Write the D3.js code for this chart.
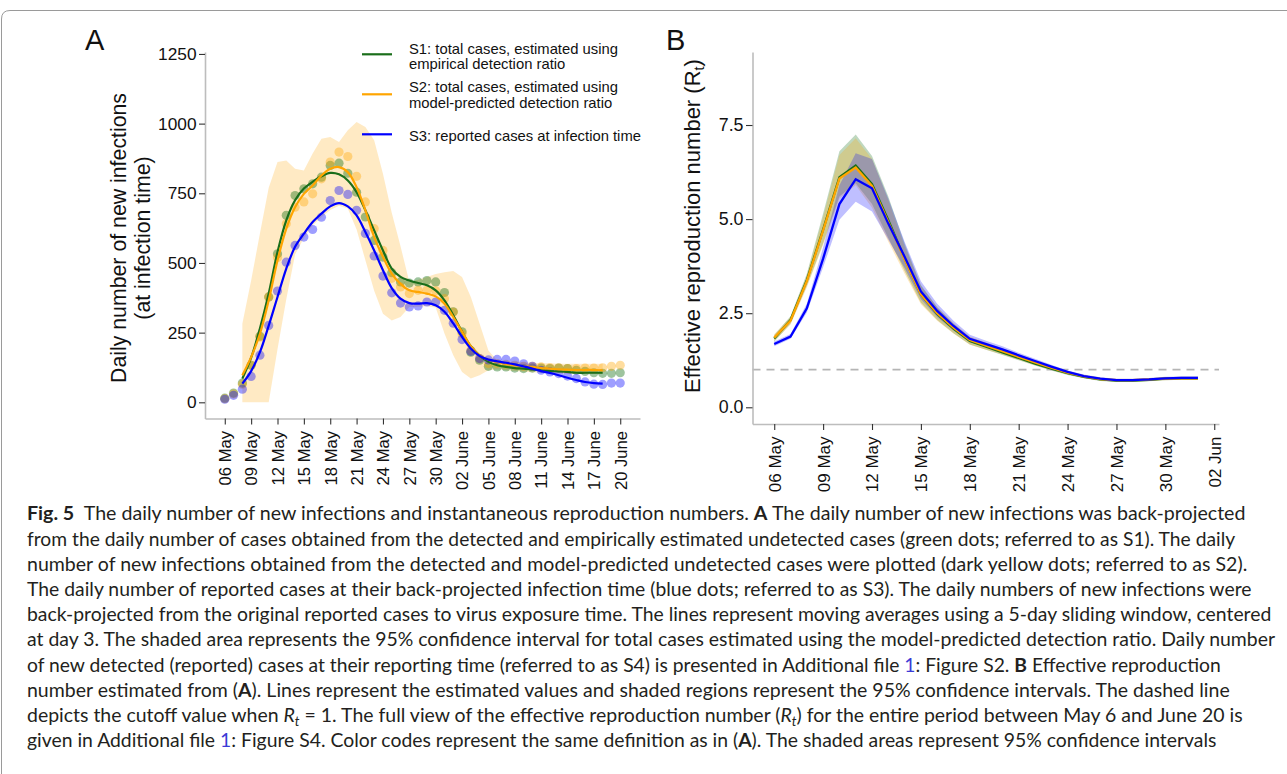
<!DOCTYPE html>
<html><head><meta charset="utf-8">
<script src="https://cdn.jsdelivr.net/npm/d3@7"></script>
<style>body{margin:0;background:#fff}svg{display:block}</style>
</head><body>
<svg id="c" width="1287" height="774"></svg>
<script>
// ---------- DATA ----------
const daysA = ["05-06","05-07","05-08","05-09","05-10","05-11","05-12","05-13","05-14","05-15","05-16","05-17","05-18","05-19","05-20","05-21","05-22","05-23","05-24","05-25","05-26","05-27","05-28","05-29","05-30","05-31","06-01","06-02","06-03","06-04","06-05","06-06","06-07","06-08","06-09","06-10","06-11","06-12","06-13","06-14","06-15","06-16","06-17","06-18","06-19","06-20"];
// daily dots (06 May - 20 June)
const s1Dots = [15,33,69,133,237,378,533,671,742,766,784,808,850,858,822,754,665,581,521,465,432,428,432,437,432,394,325,253,180,151,129,127,127,123,121,123,123,121,123,121,115,111,106,104,104,106];
const s2Dots = [13,30,65,133,234,378,520,641,700,719,748,802,862,898,882,811,719,623,545,445,414,390,402,402,400,372,324,246,186,157,139,139,136,133,129,129,127,124,124,121,121,123,123,124,129,133];
const s3Dots = [11,25,47,93,169,276,399,503,563,593,620,664,724,760,746,689,606,525,453,393,356,342,346,360,360,330,284,225,183,157,152,154,154,148,138,129,115,109,103,94,85,73,65,64,69,69];
// moving averages (08 May - 18 June)
const lineDaysA = daysA.slice(2, 44);
const s1Line = [85,160,265,390,539,653,725,767,791,811,823,818,796,754,689,617,545,480,450,437,428,420,402,366,312,253,201,168,145,133,127,123,121,118,115,112,111,109,106,106,106,106];
const s2Line = [97,162,246,366,509,623,700,748,778,814,838,844,826,772,689,593,522,462,425,402,396,390,380,354,306,253,201,168,153,145,138,133,129,127,123,121,118,117,116,116,116,115];
const s3Line = [67,112,180,275,378,480,558,605,647,677,703,715,703,671,611,545,474,410,372,356,354,356,348,325,283,235,193,166,153,147,142,136,129,121,112,105,97,88,80,73,69,67];
// 95% CI of S2 (08 May - 18 June)
const bandHi = [282,437,606,770,862,868,838,832,893,946,952,934,976,1006,988,940,820,680,560,432,440,450,460,467,471,450,378,282,186,150,148,145,143,142,140,140,138,138,138,138,138,138];
const bandLo = [0,0,0,0,190,370,530,590,635,665,690,705,695,620,510,400,318,294,306,342,343,345,340,247,169,109,85,97,115,118,115,112,110,108,106,104,103,102,102,102,102,102];
const yTicksA = [0,250,500,750,1000,1250];
const xTicksA = ["05-06","05-09","05-12","05-15","05-18","05-21","05-24","05-27","05-30","06-02","06-05","06-08","06-11","06-14","06-17","06-20"];
const xLabelsA = ["06 May","09 May","12 May","15 May","18 May","21 May","24 May","27 May","30 May","02 June","05 June","08 June","11 June","14 June","17 June","20 June"];

// Panel B (06 May - 01 Jun)
const daysB = ["05-06","05-07","05-08","05-09","05-10","05-11","05-12","05-13","05-14","05-15","05-16","05-17","05-18","05-19","05-20","05-21","05-22","05-23","05-24","05-25","05-26","05-27","05-28","05-29","05-30","05-31","06-01"];
const rt1 = [1.83,2.32,3.38,4.72,6.11,6.42,5.93,4.97,3.95,3.0,2.48,2.09,1.76,1.61,1.46,1.31,1.16,1.03,0.91,0.81,0.74,0.71,0.71,0.73,0.76,0.77,0.77];
const rt1Lo = [1.74,2.22,3.22,4.35,5.60,5.95,5.40,4.50,3.62,2.78,2.32,1.97,1.67,1.53,1.39,1.25,1.11,0.98,0.86,0.77,0.70,0.67,0.67,0.69,0.72,0.73,0.73];
const rt1Hi = [1.92,2.42,3.55,5.15,6.80,7.25,6.68,5.60,4.35,3.25,2.66,2.22,1.86,1.70,1.54,1.38,1.22,1.08,0.96,0.85,0.78,0.75,0.75,0.77,0.80,0.81,0.81];
const rt2 = [1.85,2.30,3.35,4.70,6.08,6.37,5.88,4.92,3.93,3.0,2.5,2.12,1.79,1.64,1.49,1.34,1.19,1.05,0.92,0.82,0.75,0.72,0.72,0.74,0.76,0.77,0.77];
const rt2Lo = [1.76,2.20,3.18,4.32,5.55,5.90,5.30,4.40,3.55,2.74,2.30,1.96,1.66,1.53,1.40,1.26,1.12,0.99,0.87,0.78,0.71,0.68,0.68,0.70,0.72,0.73,0.73];
const rt2Hi = [1.94,2.40,3.50,5.05,6.70,7.15,6.60,5.50,4.28,3.22,2.66,2.24,1.88,1.72,1.56,1.40,1.24,1.09,0.96,0.86,0.79,0.76,0.76,0.78,0.80,0.81,0.81];
const rt3 = [1.68,1.88,2.63,3.95,5.40,6.06,5.82,4.88,4.00,3.08,2.56,2.16,1.82,1.68,1.54,1.38,1.23,1.08,0.94,0.83,0.76,0.72,0.72,0.74,0.77,0.78,0.78];
const rt3Lo = [1.62,1.82,2.52,3.72,4.98,5.46,5.20,4.45,3.70,2.88,2.40,2.04,1.73,1.60,1.47,1.32,1.18,1.04,0.90,0.80,0.73,0.69,0.69,0.71,0.74,0.75,0.75];
const rt3Hi = [1.75,1.95,2.75,4.25,5.90,6.75,6.60,5.55,4.40,3.35,2.75,2.30,1.93,1.77,1.62,1.45,1.29,1.13,0.98,0.87,0.80,0.76,0.76,0.78,0.81,0.82,0.82];
const yTicksB = [0,2.5,5,7.5];
const xTicksB = ["05-06","05-09","05-12","05-15","05-18","05-21","05-24","05-27","05-30","06-02"];
const xLabelsB = ["06 May","09 May","12 May","15 May","18 May","21 May","24 May","27 May","30 May","02 Jun"];

const legendItems = [
  {lines:["S1: total cases, estimated using","empirical detection ratio"], color:"#1a6e1a"},
  {lines:["S2: total cases, estimated using","model-predicted detection ratio"], color:"#FFA500"},
  {lines:["S3: reported cases at infection time"], color:"#0000FF"}
];

// ---------- DRAW ----------
const svg = d3.select("#c");
const FONT = "'Liberation Sans', Arial, sans-serif";
const parse = d3.timeParse("%m-%d");
const cGreen = "#1a6e1a", cOrange = "#FFA500", cBlue = "#0000FF";

// frame
svg.append("path").attr("d","M1.5,774 L1.5,19 Q1.5,10.5 10,10.5 L1287,10.5")
  .attr("fill","none").attr("stroke","#9a9a9a").attr("stroke-width",1);

function styleAxis(g, fs){
  g.attr("font-family", FONT).attr("font-size", fs);
  g.select(".domain").attr("stroke","#bdbdbd").attr("stroke-width",1.6);
  g.selectAll(".tick line").attr("stroke","#333").attr("stroke-width",1.1);
  g.selectAll(".tick text").attr("fill","#111").style("font-family",FONT).style("font-size",fs+"px");
}

// ===== Panel A =====
const xA = d3.scaleTime()
  .domain([d3.timeHour.offset(parse("05-06"), -54), d3.timeHour.offset(parse("06-20"), 54)])
  .range([205, 640]);
const yA = d3.scaleLinear().domain([-58.1, 1257]).range([418.5, 52]);

const gA = svg.append("g");
const bandData = lineDaysA.map((d,i)=>({d:parse(d), lo:bandLo[i], hi:bandHi[i]}));
gA.append("path").datum(bandData)
  .attr("d", d3.area().x(p=>xA(p.d)).y0(p=>yA(p.lo)).y1(p=>yA(p.hi)))
  .attr("fill", cOrange).attr("fill-opacity",0.23);

[[s1Dots,"#006400"],[s2Dots,cOrange],[s3Dots,cBlue]].forEach(([arr,col])=>{
  gA.append("g").selectAll("circle").data(arr).join("circle")
    .attr("cx",(v,i)=>xA(parse(daysA[i]))).attr("cy",v=>yA(v)).attr("r",4.6)
    .attr("fill",col).attr("fill-opacity",0.38);
});

[[s1Line,cGreen],[s2Line,cOrange],[s3Line,cBlue]].forEach(([arr,col])=>{
  gA.append("path").datum(arr)
    .attr("d", d3.line().x((v,i)=>xA(parse(lineDaysA[i]))).y(v=>yA(v)).curve(d3.curveCatmullRom.alpha(0.5)))
    .attr("fill","none").attr("stroke",col).attr("stroke-width",2.2);
});

const axYA = svg.append("g").attr("transform","translate(205,0)")
  .call(d3.axisLeft(yA).tickValues(yTicksA).tickFormat(d3.format("d")).tickSize(6).tickPadding(2.5).tickSizeOuter(0));
styleAxis(axYA, 17.3);
const axXA = svg.append("g").attr("transform","translate(0,418.5)")
  .call(d3.axisBottom(xA).tickValues(xTicksA.map(parse)).tickFormat((d,i)=>xLabelsA[i]).tickSize(6).tickSizeOuter(0));
styleAxis(axXA, 16.6);
axXA.selectAll(".tick text").attr("transform","rotate(-90)").attr("x",-12.5).attr("y",5.8).attr("dy",0).style("text-anchor","end");

// titles A
svg.append("text").attr("transform","translate(125.5,238) rotate(-90)").attr("text-anchor","middle")
  .attr("font-family",FONT).attr("font-size",21.3).attr("fill","#111").text("Daily number of new infections");
svg.append("text").attr("transform","translate(149.5,238) rotate(-90)").attr("text-anchor","middle")
  .attr("font-family",FONT).attr("font-size",21.3).attr("fill","#111").text("(at infection time)");
svg.append("text").attr("x",85).attr("y",50).attr("font-family",FONT).attr("font-size",29).attr("fill","#111").text("A");

// legend
const legY = [54.3, 94.3, 134.3];
const legTextY = [[53.6,68.6],[92,108],[141]];
legendItems.forEach((it,k)=>{
  svg.append("line").attr("x1",362).attr("x2",392).attr("y1",legY[k]).attr("y2",legY[k])
    .attr("stroke",it.color).attr("stroke-width",2.2);
  it.lines.forEach((t,j)=>{
    svg.append("text").attr("x",409).attr("y",legTextY[k][j]).attr("font-family",FONT)
      .attr("font-size",14.8).attr("fill","#111").text(t);
  });
});

// ===== Panel B =====
const xB = d3.scaleTime()
  .domain([d3.timeHour.offset(parse("05-06"), -31.2), d3.timeHour.offset(parse("06-01"), 31.2)])
  .range([752.5, 1219]);
const yB = d3.scaleLinear().domain([-0.444, 9.44]).range([424, 52]);
const gB = svg.append("g");

[[rt1Lo,rt1Hi,"#006400"],[rt2Lo,rt2Hi,cOrange],[rt3Lo,rt3Hi,cBlue]].forEach(([lo,hi,col])=>{
  gB.append("path").datum(daysB.map((d,i)=>({d:parse(d),lo:lo[i],hi:hi[i]})))
    .attr("d", d3.area().x(p=>xB(p.d)).y0(p=>yB(p.lo)).y1(p=>yB(p.hi)))
    .attr("fill",col).attr("fill-opacity",0.25);
});
// dashed Rt = 1
gB.append("line").attr("x1",752.5).attr("x2",1219).attr("y1",yB(1)).attr("y2",yB(1))
  .attr("stroke","#b5b5b5").attr("stroke-width",1.6).attr("stroke-dasharray","8,6");

[[rt1,cGreen],[rt2,cOrange],[rt3,cBlue]].forEach(([arr,col])=>{
  gB.append("path").datum(arr)
    .attr("d", d3.line().x((v,i)=>xB(parse(daysB[i]))).y(v=>yB(v)))
    .attr("fill","none").attr("stroke",col).attr("stroke-width",2.3);
});

const axYB = svg.append("g").attr("transform","translate(752.5,0)")
  .call(d3.axisLeft(yB).tickValues(yTicksB).tickFormat(d3.format(".1f")).tickSize(6.5).tickPadding(2.5).tickSizeOuter(0));
styleAxis(axYB, 17.8);
const axXB = svg.append("g").attr("transform","translate(0,424)")
  .call(d3.axisBottom(xB).tickValues(xTicksB.map(parse)).tickFormat((d,i)=>xLabelsB[i]).tickSize(6).tickSizeOuter(0));
styleAxis(axXB, 17);
axXB.selectAll(".tick text").attr("transform","rotate(-90)").attr("x",-12.5).attr("y",5.9).attr("dy",0).style("text-anchor","end");

const tB = svg.append("text").attr("transform","translate(699.5,226) rotate(-90)").attr("text-anchor","middle")
  .attr("font-family",FONT).attr("font-size",22).attr("fill","#111");
tB.append("tspan").text("Effective reproduction number (R");
tB.append("tspan").attr("font-size",14.5).attr("dy",4).text("t");
tB.append("tspan").attr("dy",-4).text(")");
svg.append("text").attr("x",666).attr("y",50).attr("font-family",FONT).attr("font-size",29).attr("fill","#111").text("B");

// ===== Caption =====
const capLines = [
  [["Fig. 5","b"],["  The daily number of new infections and instantaneous reproduction numbers. ",""],["A","b"],[" The daily number of new infections was back-projected",""]],
  [["from the daily number of cases obtained from the detected and empirically estimated undetected cases (green dots; referred to as S1). The daily",""]],
  [["number of new infections obtained from the detected and model-predicted undetected cases were plotted (dark yellow dots; referred to as S2).",""]],
  [["The daily number of reported cases at their back-projected infection time (blue dots; referred to as S3). The daily numbers of new infections were",""]],
  [["back-projected from the original reported cases to virus exposure time. The lines represent moving averages using a 5-day sliding window, centered",""]],
  [["at day 3. The shaded area represents the 95% confidence interval for total cases estimated using the model-predicted detection ratio. Daily number",""]],
  [["of new detected (reported) cases at their reporting time (referred to as S4) is presented in Additional file ",""],["1","u"],[": Figure S2. ",""],["B","b"],[" Effective reproduction",""]],
  [["number estimated from (",""],["A","b"],["). Lines represent the estimated values and shaded regions represent the 95% confidence intervals. The dashed line",""]],
  [["depicts the cutoff value when ",""],["R","i"],["t","sub"],[" = 1. The full view of the effective reproduction number (",""],["R","i"],["t","sub"],[") for the entire period between May 6 and June 20 is",""]],
  [["given in Additional file ",""],["1","u"],[": Figure S4. Color codes represent the same definition as in (",""],["A","b"],["). The shaded areas represent 95% confidence intervals",""]]
];
const capEnds = [1245,1235,1247,1251,1271,1274,1221,1229,1243,1216];
capLines.forEach((segs,i)=>{
  const t = svg.append("text").attr("x",27).attr("y",520.5+25.2*i)
    .attr("font-family","Lato, 'Open Sans', sans-serif").attr("font-size",18.3).attr("fill","#231f20")
    .attr("xml:space","preserve").style("white-space","pre");
  let shifted = false;
  segs.forEach(([s,st])=>{
    const ts = t.append("tspan").text(s);
    if (shifted){ ts.attr("dy",-4); shifted=false; }
    if (st==="b") ts.attr("font-weight","bold");
    if (st==="i") ts.attr("font-style","italic");
    if (st==="u") ts.attr("fill","#3b3bd6");
    if (st==="sub"){ ts.attr("font-style","italic").attr("font-size",12.5).attr("dy",4); shifted=true; }
  });
  const w = t.node().getComputedTextLength();
  const sx = (capEnds[i]-27)/w;
  t.attr("transform",`translate(27,0) scale(${sx},1) translate(-27,0)`);
});
</script>
</body></html>
